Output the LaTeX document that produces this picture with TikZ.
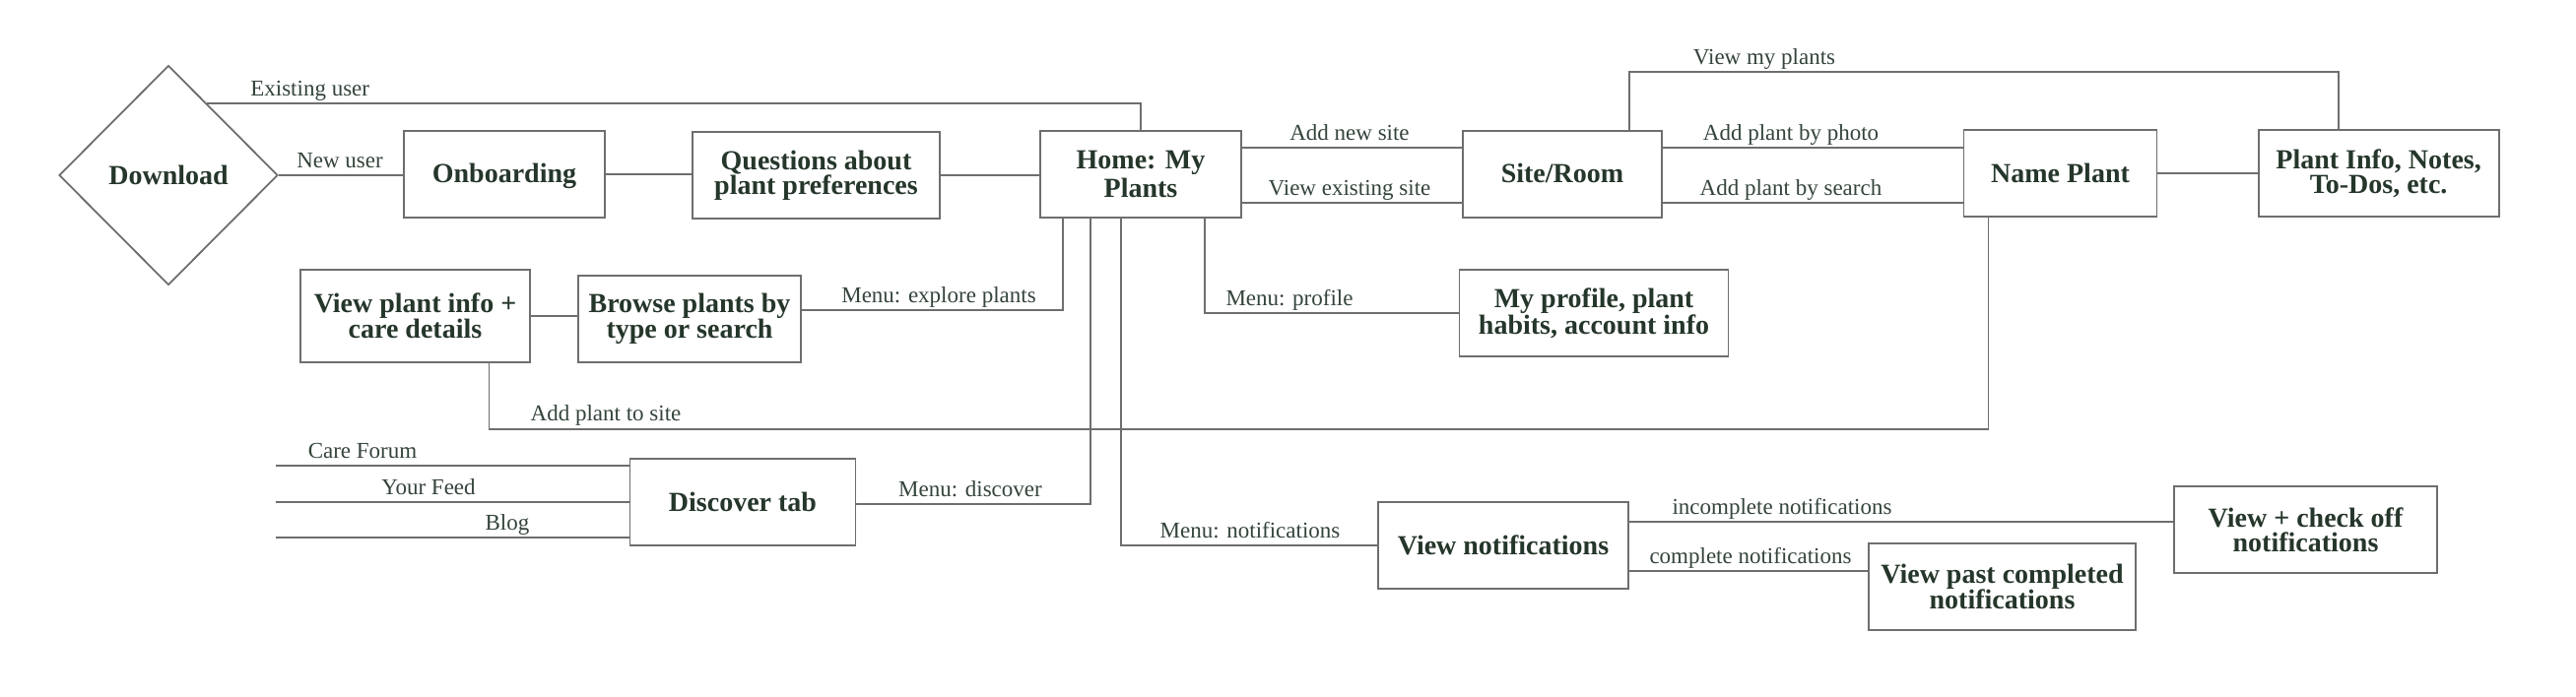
\documentclass[tikz,border=0pt]{standalone}
\usepackage{fontspec}
\setmainfont{Liberation Serif}
\usetikzlibrary{shapes.geometric,calc}
\definecolor{txt}{HTML}{25362A}
\definecolor{lbl}{HTML}{34443A}
\definecolor{ln}{HTML}{6E6E6E}
\tikzset{
  box/.style={draw=ln, line width=1.8pt, rectangle, inner sep=0pt, align=center, text=txt,
    font=\fontsize{28}{25}\selectfont\bfseries, minimum height=88pt},
  lab/.style={anchor=base, text=lbl, font=\fontsize{23}{26}\selectfont, inner sep=0pt},
  conn/.style={draw=ln, line width=1.8pt},
}
\begin{document}
\begin{tikzpicture}[x=1pt,y=-1pt]
\useasboundingbox (0,0) rectangle (2615,707);

% nodes
\node[diamond, draw=ln, line width=1.8pt, inner sep=0pt, minimum width=222pt, minimum height=223pt,
  text=txt, font=\fontsize{28}{25}\selectfont\bfseries] (download) at (171,178) {Download};
\node[box, minimum width=204pt, text height=19pt, text depth=2pt] (onboard) at (512,177) {Onboarding};
\node[box, minimum width=251pt] (questions) at (828.5,178) {Questions about\\plant preferences};
\node[box, minimum width=204pt] (home) at (1158,177) {\raisebox{-1.5pt}{\shortstack{Home: My\\Plants}}};
\node[box, minimum width=202pt, text height=19pt, text depth=2pt] (site) at (1586,177) {Site/Room};
\node[box, minimum width=196pt] (name) at (2091.5,176) {Name Plant};
\node[box, minimum width=244pt] (info) at (2414.6,176) {Plant Info, Notes,\\To-Dos, etc.};
\node[box, minimum width=233pt, minimum height=94pt] (viewinfo) at (421.5,321) {View plant info +\\care details};
\node[box, minimum width=226pt] (browse) at (700,324) {Browse plants by\\type or search};
\node[box, minimum width=273pt] (profile) at (1618,318) {My profile, plant\\habits, account info};
\node[box, minimum width=229pt] (discover) at (754,510) {Discover tab};
\node[box, minimum width=254pt] (notif) at (1526,554) {View notifications};
\node[box, minimum width=267pt] (checkoff) at (2340.5,538.3) {View + check off\\notifications};
\node[box, minimum width=271pt] (past) at (2032.5,596) {View past completed\\notifications};

\coordinate (cf) at (280,473.3);
\coordinate (yf) at (280,510.3);
\coordinate (bl) at (280,546);

% connectors
\draw[conn] (download.62) -| (home.north);
\draw[conn] (download.east) -- (download.east -| onboard.west);
\draw[conn] (onboard.east) -- (onboard.east -| questions.west);
\draw[conn] (questions.east) -- (questions.east -| home.west);
\draw[conn] ([yshift=27pt]home.east) -- ([yshift=27pt]home.east -| site.west);
\draw[conn] ([yshift=-29pt]home.east) -- ([yshift=-29pt]home.east -| site.west);
\draw[conn] ([yshift=27pt]site.east) -- ([yshift=27pt]site.east -| name.west);
\draw[conn] ([yshift=-29pt]site.east) -- ([yshift=-29pt]site.east -| name.west);
\draw[conn] ([xshift=68pt]site.north) -- ++(0,-59) -| ([xshift=-40.6pt]info.north);
\draw[conn] (name.east) -- (info.west);
\draw[conn] ([xshift=-73pt]name.south) -- ++(0,215) -| ([xshift=75pt]viewinfo.south);
\draw[conn] (viewinfo.east) -- (viewinfo.east -| browse.west);
\draw[conn] ([xshift=-79pt]home.south) |- ([yshift=9pt]browse.east);
\draw[conn] ([xshift=-51pt]home.south) |- ([yshift=-2pt]discover.east);
\draw[conn] ([xshift=-20pt]home.south) |- (notif.west);
\draw[conn] ([xshift=64.6pt]home.south) |- (profile.west);
\draw[conn] ([yshift=24pt]notif.east) -- ([yshift=24pt]notif.east -| checkoff.west);
\draw[conn] ([yshift=-26pt]notif.east) -- ([yshift=-26pt]notif.east -| past.west);
\draw[conn] (cf) -- (cf -| discover.west);
\draw[conn] (yf) -- (yf -| discover.west);
\draw[conn] (bl) -- (bl -| discover.west);

% labels
\node[lab] (lexist) at (314.7,97) {Existing user};
\node[lab] (lnew) at (345,170) {New user};
\node[lab] (laddsite) at (1370,142) {Add new site};
\node[lab] (lviewsite) at (1370,198) {View existing site};
\node[lab] (lphoto) at (1818,142) {Add plant by photo};
\node[lab] (lsearch) at (1818,198) {Add plant by search};
\node[lab] (lmyplants) at (1791,65) {View my plants};
\node[lab] (lexplore) at (953,307) {Menu: explore plants};
\node[lab] (lprofile) at (1309,310) {Menu: profile};
\node[lab] (laddplant) at (615,427) {Add plant to site};
\node[lab] (lcare) at (368,465) {Care Forum};
\node[lab] (lfeed) at (435,502) {Your Feed};
\node[lab] (lblog) at (515,538) {Blog};
\node[lab] (ldiscover) at (985,504) {Menu: discover};
\node[lab] (lnotif) at (1269,546) {Menu: notifications};
\node[lab] (lincomplete) at (1809,522) {incomplete notifications};
\node[lab] (lcomplete) at (1777,572) {complete notifications};
\end{tikzpicture}
\end{document}
